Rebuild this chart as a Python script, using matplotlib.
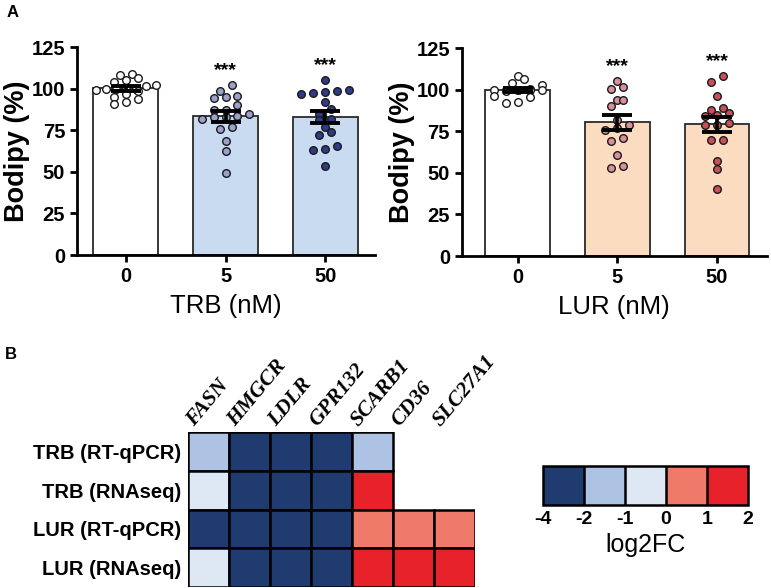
import matplotlib
matplotlib.use('Agg')
import matplotlib.pyplot as plt
import numpy as np
from matplotlib.colors import ListedColormap, BoundaryNorm
from matplotlib.cm import ScalarMappable
from matplotlib.patches import Rectangle

plt.rcParams['font.family'] = ['Liberation Sans', 'DejaVu Sans']
plt.rcParams['axes.unicode_minus'] = False

# ---- panel A data (Bodipy %, individual replicates) ----
doses = ['0', '5', '50']
trb_0 = [109, 108, 106.5, 105, 104, 102, 101.5, 100, 100, 100, 99.5, 99, 98.5, 97, 95, 93.5, 92, 91]
trb_5 = [102, 98.5, 95.5, 95, 94.5, 90, 87, 87, 85, 83.5, 83, 83, 82, 77, 76, 68.5, 62.5, 49.5]
trb_50 = [105, 99, 98.5, 98, 97.5, 97, 92, 88, 85, 81.5, 81, 77, 74, 72, 65.5, 64, 63, 53.5]
lur_0 = [108, 106.5, 104, 102.5, 100.5, 100, 100, 100, 99.5, 99.5, 99.5, 99, 96, 95.5, 92.5, 92]
lur_5 = [105, 101.5, 100.3, 94, 93.5, 90, 82, 78.5, 77, 75.5, 71, 69, 61, 54, 53]
lur_50 = [108, 104.5, 96, 89, 88, 86, 84.5, 84, 80, 79, 78.5, 70, 69.5, 57, 52, 40]
signif = ['', '***', '***']

# ---- panel B data (log2FC, NaN = not measured) ----
genes = ['FASN', 'HMGCR', 'LDLR', 'GPR132', 'SCARB1', 'CD36', 'SLC27A1']
conditions = ['TRB (RT-qPCR)', 'TRB (RNAseq)', 'LUR (RT-qPCR)', 'LUR (RNAseq)']
trb_qpcr = [-1.5, -3, -3, -3, -1.5, np.nan, np.nan]
trb_rnaseq = [-0.5, -3, -3, -3, 1.5, np.nan, np.nan]
lur_qpcr = [-3, -3, -3, -3, 0.5, 0.5, 0.5]
lur_rnaseq = [-0.5, -3, -3, -3, 1.5, 1.5, 1.5]
fc_bounds = [-4, -2, -1, 0, 1, 2]
fc_colors = ['#1f3b70', '#aec3e3', '#dde8f4', '#f07a6a', '#e8222b']


def swarm_offsets(vals, bin_size=4.0, step=0.12, max_span=0.6):
    vals = np.asarray(vals, dtype=float)
    order = np.argsort(vals)
    offs = np.zeros(len(vals))
    groups, cur = [], [order[0]]
    for idx in order[1:]:
        if vals[idx] - vals[cur[0]] < bin_size:
            cur.append(idx)
        else:
            groups.append(cur)
            cur = [idx]
    groups.append(cur)
    for g in groups:
        n = len(g)
        s = step if n < 2 else min(step, max_span / (n - 1))
        for i, idx in enumerate(g):
            offs[idx] = (i - (n - 1) / 2) * s
    return offs


def bar_panel(ax, groups, bar_colors, dot_colors, xlabel, xlim):
    x = np.arange(len(groups))
    means = [np.mean(g) for g in groups]
    sems = [np.std(g, ddof=1) / np.sqrt(len(g)) for g in groups]
    ax.bar(x, means, width=0.65, color=bar_colors, edgecolor='#2a2a2a', linewidth=1.3, zorder=1)
    for i, g in enumerate(groups):
        ax.scatter(i + swarm_offsets(g), g, s=30, facecolor=dot_colors[i],
                   edgecolor='#1a1a1a', linewidth=1.0, zorder=3)
        if signif[i]:
            ax.text(i, max(g) + 9, signif[i], ha='center', va='center',
                    fontsize=14, fontweight='bold')
    ax.errorbar(x, means, yerr=sems, fmt='none', ecolor='black', elinewidth=2.6,
                capsize=11, capthick=2.8, zorder=4)
    ax.set_ylim(0, 125)
    ax.set_xlim(*xlim)
    ax.set_yticks(np.arange(0, 126, 25))
    ax.set_xticks(x)
    ax.set_xticklabels(doses)
    for s in ['top', 'right']:
        ax.spines[s].set_visible(False)
    for s in ['left', 'bottom']:
        ax.spines[s].set_linewidth(2)
    ax.tick_params(width=2, length=5, labelsize=14.5)
    for lab in ax.get_xticklabels() + ax.get_yticklabels():
        lab.set_fontweight('bold')
    ax.set_ylabel('Bodipy (%)', fontsize=19.5, fontweight='bold', labelpad=1)
    ax.set_xlabel(xlabel, fontsize=18.5, labelpad=6)


fig = plt.figure(figsize=(7.71, 5.88), dpi=100)

ax1 = fig.add_axes([0.0999, 0.5663, 0.3865, 0.3537])
bar_panel(ax1, [trb_0, trb_5, trb_50], ['white', '#c8dbf0', '#c8dbf0'],
          ['white', '#9d9fcc', '#2f3b88'], 'TRB (nM)', (-0.49, 2.5))

ax2 = fig.add_axes([0.599, 0.5646, 0.3956, 0.3537])
bar_panel(ax2, [lur_0, lur_5, lur_50], ['white', '#fcdcc0', '#fcdcc0'],
          ['white', '#d9909b', '#c8505b'], 'LUR (nM)', (-0.56, 2.5))

fig.text(0.008, 0.978, 'A', fontsize=12, fontweight='bold', va='center')
fig.text(0.006, 0.397, 'B', fontsize=12, fontweight='bold', va='center')

# ---- heatmap ----
cmap = ListedColormap(fc_colors)
norm = BoundaryNorm(fc_bounds, cmap.N)
mat = np.array([trb_qpcr, trb_rnaseq, lur_qpcr, lur_rnaseq])

ax3 = fig.add_axes([0.2438, 0.0017, 0.3722, 0.2636])
for r in range(mat.shape[0]):
    for c in range(mat.shape[1]):
        if np.isnan(mat[r, c]):
            continue
        ax3.add_patch(Rectangle((c, r), 1, 1, facecolor=cmap(norm(mat[r, c])),
                                edgecolor='black', linewidth=1.8))
ax3.set_xlim(0, len(genes))
ax3.set_ylim(len(conditions), 0)
for s in ax3.spines.values():
    s.set_visible(False)
ax3.set_xticks([])
ax3.set_yticks(np.arange(len(conditions)) + 0.5)
ax3.set_yticklabels(conditions, fontsize=14.5, fontweight='bold')
ax3.tick_params(axis='y', length=0, pad=5)
for j, g in enumerate(genes):
    ax3.text(j + 0.25, -0.05, g, rotation=50, rotation_mode='anchor', ha='left', va='bottom',
             fontsize=15.5, fontweight='bold', fontstyle='italic', family='Liberation Serif')

# ---- colour key ----
cax = fig.add_axes([0.7043, 0.1412, 0.2659, 0.0663])
cb = fig.colorbar(ScalarMappable(norm=norm, cmap=cmap), cax=cax, orientation='horizontal',
                  ticks=fc_bounds, spacing='uniform', drawedges=True)
cb.outline.set_linewidth(1.8)
cb.dividers.set_linewidth(1.8)
cb.dividers.set_color('black')
cax.tick_params(length=0, labelsize=14, pad=4)
for lab in cax.get_xticklabels():
    lab.set_fontweight('bold')
cb.set_label('log2FC', fontsize=18, labelpad=4)

fig.savefig('out.png', dpi=100)
